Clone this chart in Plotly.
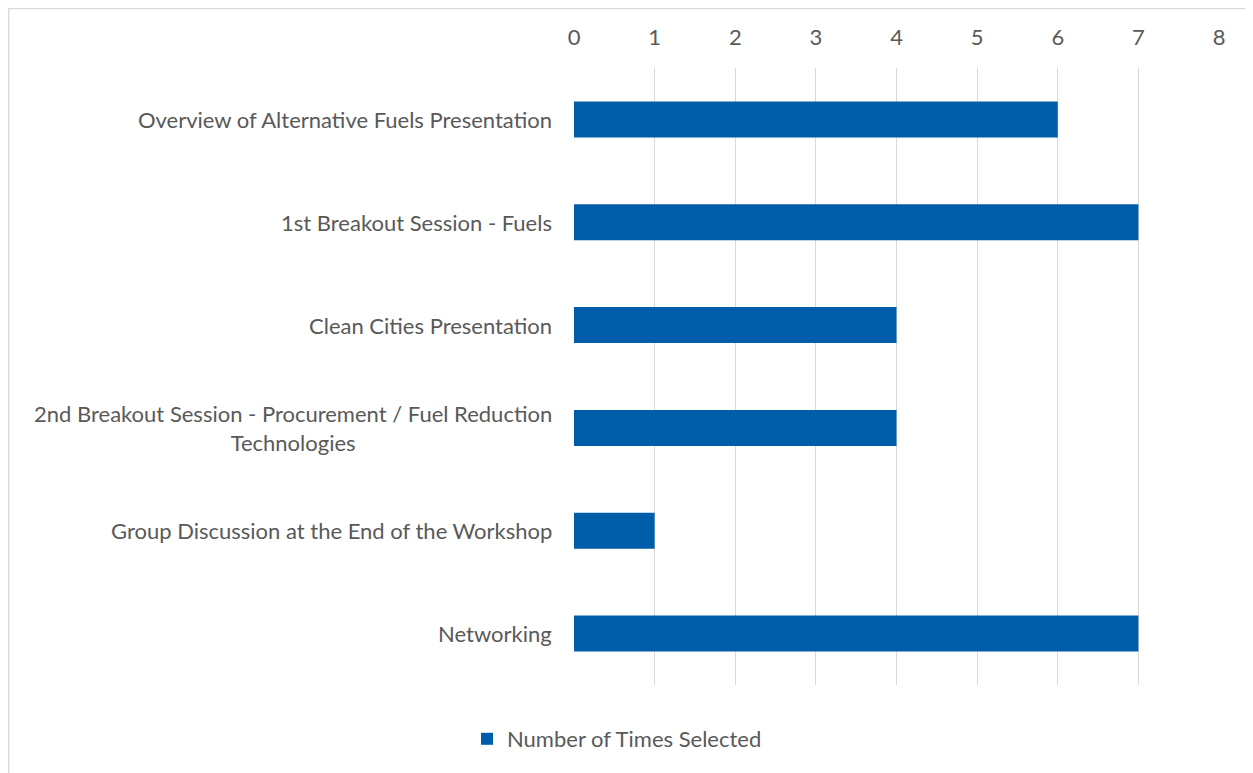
import plotly.graph_objects as go

categories = [
    "Overview of Alternative Fuels Presentation",
    "1st Breakout Session - Fuels",
    "Clean Cities Presentation",
    "2nd Breakout Session - Procurement / Fuel Reduction<br>Technologies",
    "Group Discussion at the End of the Workshop",
    "Networking",
]
values = [6, 7, 4, 4, 1, 7]
series_name = "Number of Times Selected"
x_ticks = [0, 1, 2, 3, 4, 5, 6, 7, 8]

FONT = "Lato"
TXT = "#595959"
FS = 22

L, T, R, B = 566, 60, 42, 96
PW, PH = 1253 - L - R, 773 - T - B

fig = go.Figure()
fig.add_trace(go.Bar(
    y=categories, x=values, orientation="h", name=series_name,
    marker=dict(color="#005DA9", line=dict(width=0)),
))

for c in categories:
    fig.add_annotation(
        x=0, xref="paper", y=c, yref="y", text=c, showarrow=False,
        xanchor="right", xshift=-20, align="center",
        font=dict(family=FONT, size=FS, color=TXT),
    )

fig.add_shape(type="rect", xref="paper", yref="paper",
              x0=-L / PW + 0.001, x1=1.2, y0=-0.3, y1=1 + T / PH - 0.001,
              line=dict(color="#d9d9d9", width=1.5), fillcolor="rgba(0,0,0,0)")

fig.update_layout(
    width=1253, height=773,
    margin=dict(l=L, r=R, t=T, b=B),
    paper_bgcolor="white", plot_bgcolor="white",
    bargap=0.65,
    showlegend=True,
    legend=dict(orientation="h", xref="container", yref="container",
                x=609 / 1253, y=1 - 731 / 773, xanchor="center", yanchor="middle",
                font=dict(family=FONT, size=FS, color=TXT)),
    xaxis=dict(side="top", range=[0, 8], tickvals=x_ticks, showgrid=True,
               gridcolor="#d9d9d9", gridwidth=1.3, zeroline=False,
               showline=False, ticks="", ticklabelstandoff=18,
               tickfont=dict(family=FONT, size=FS, color=TXT)),
    yaxis=dict(autorange="reversed", showticklabels=False, showgrid=False,
               zeroline=False, showline=False, ticks=""),
)
fig.write_html("out.html")
